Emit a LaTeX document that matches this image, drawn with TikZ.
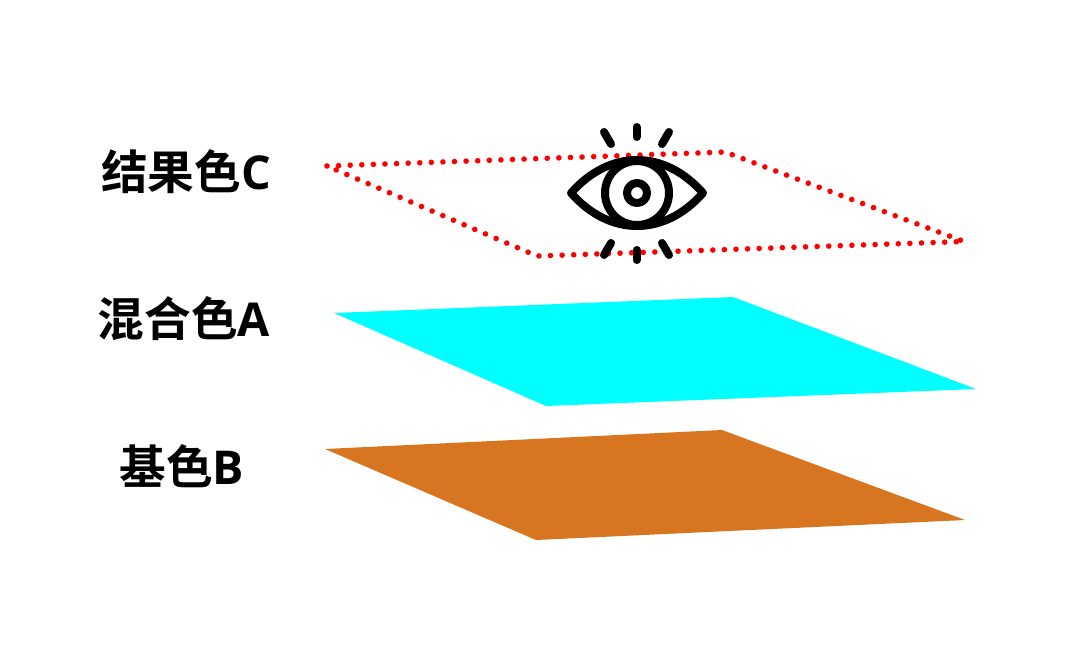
\documentclass[tikz,border=0pt]{standalone}
\usepackage{fontspec}
\setmainfont{Open Sans}
\newfontfamily\cjk{Noto Sans CJK SC}[BoldFont={Noto Sans CJK SC Bold}]
\definecolor{layerA}{RGB}{0,255,255}
\definecolor{layerB}{RGB}{216,117,32}
\tikzset{
  layerlabel/.style={font=\fontsize{35}{40}\selectfont\bfseries,inner sep=0pt},
  eyeline/.style={line width=6pt,line cap=round,line join=round},
  resultedge/.style={red,line width=4.2pt,line cap=round,dash pattern=on 0pt off 8.7pt}
}
\begin{document}
\begin{tikzpicture}[x=0.75pt,y=-0.75pt]
\useasboundingbox (0,0) rectangle (1066,644);
% layers
\fill[layerB] (325,449) -- (722,430) -- (965,520) -- (536,540) -- cycle;
\fill[layerA] (334,313) -- (733,297) -- (976,389) -- (546,406) -- cycle;
\draw[resultedge] (327,166) -- (725,152) -- (964,241.5) -- (537,256) -- cycle;
% labels
\node[layerlabel] (labelC) at (186,172) {{\cjk 结果色}C};
\node[layerlabel] (labelA) at (184,319) {{\cjk 混合色}A};
\node[layerlabel] (labelB) at (182,466) {{\cjk 基色}B};
% eye
\draw[eyeline] (571,193) .. controls (610,149) and (664,149) .. (703,193)
  .. controls (664,237) and (610,237) .. cycle;
\draw[eyeline] (637,193) circle (32);
\draw[eyeline] (637,193) circle (10);
\draw[eyeline] (604,132) -- (611,144);
\draw[eyeline] (636.5,127) -- (636.5,137);
\draw[eyeline] (669,132) -- (662,144);
\draw[eyeline] (611,243) -- (604,255);
\draw[eyeline] (636.5,250) -- (636.5,260);
\draw[eyeline] (662,243) -- (669,255);
\end{tikzpicture}
\end{document}
